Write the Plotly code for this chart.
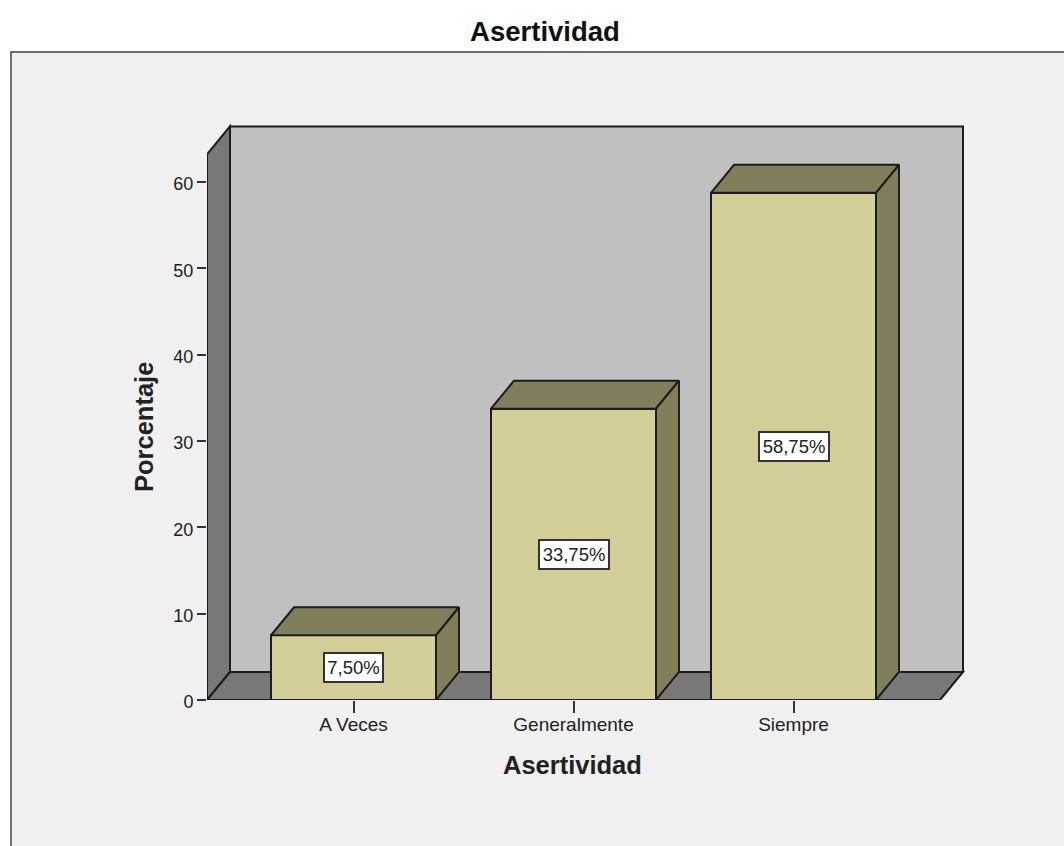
import plotly.graph_objects as go

categories = ["A Veces", "Generalmente", "Siempre"]
values = [7.50, 33.75, 58.75]
labels = ["7,50%", "33,75%", "58,75%"]
y_ticks = [0, 10, 20, 30, 40, 50, 60]
title_text = "Asertividad"
y_title = "Porcentaje"

W, H = 1064, 846
L, R, T, B = 207, 975, 115, 700      # plot area in pixels (slightly larger than the walls)
WALL_R = 963                         # pixel of the back wall's right edge
PX_Y = 8.633                         # pixels per percentage point
PX_X = 220.0                         # pixels per category
X0 = 353.5                           # pixel of first category
DX = 23 / PX_X                       # depth offset, x data units
DY = 28 / PX_Y                       # depth offset, y data units
BAR_W = 165 / PX_X
WALL_TOP = 63.2
x_lo = (L - X0) / PX_X
x_hi = (R - X0) / PX_X
x_wall_hi = (WALL_R - X0) / PX_X
x_front_hi = x_wall_hi - DX
y_hi = (B - T) / PX_Y

INK = "#1c1c1c"
LW = 2
WALL, SIDE, PANEL = "#c0c0c0", "#787878", "#f0f0f0"
BAR, BAR_DARK = "#d3ce97", "#807e5b"
TXT = "#222222"
FONT = "Liberation Sans, Arial, sans-serif"

px = lambda v: (v - L) / (R - L)
py = lambda v: 1 - (v - T) / (B - T)

def poly(xs, ys):
    return "M" + " L".join(f"{a},{b}" for a, b in zip(xs, ys)) + " Z"

positions = list(range(len(categories)))
fig = go.Figure()

shapes = [
    dict(type="rect", xref="paper", yref="paper", x0=px(11), x1=px(1100), y0=py(900), y1=py(52),
         fillcolor=PANEL, line=dict(color="#6e6e6e", width=2), layer="below"),
    dict(type="path", layer="below", fillcolor=WALL, line=dict(color=INK, width=LW),
         path=poly([x_lo + DX, x_wall_hi, x_wall_hi, x_lo + DX], [DY, DY, WALL_TOP + DY, WALL_TOP + DY])),
    dict(type="path", layer="below", fillcolor=SIDE, line=dict(color=INK, width=LW),
         path=poly([x_lo, x_lo + DX, x_lo + DX, x_lo], [0, DY, WALL_TOP + DY, WALL_TOP])),
    dict(type="path", layer="below", fillcolor=SIDE, line=dict(color=INK, width=LW),
         path=poly([x_lo, x_front_hi, x_wall_hi, x_lo + DX], [0, 0, DY, DY])),
]

fig.add_trace(go.Bar(x=positions, y=values, width=BAR_W, cliponaxis=False,
                     marker=dict(color=BAR, line=dict(color=INK, width=LW)),
                     showlegend=False, hoverinfo="skip"))

for p, v in zip(positions, values):
    a, b = p - BAR_W / 2, p + BAR_W / 2
    fig.add_trace(go.Scatter(x=[a, b, b + DX, a + DX, a], y=[v, v, v + DY, v + DY, v],
                             mode="lines", fill="toself", fillcolor=BAR_DARK, cliponaxis=False,
                             line=dict(color=INK, width=LW), showlegend=False, hoverinfo="skip"))
    fig.add_trace(go.Scatter(x=[b, b + DX, b + DX, b, b], y=[0, DY, v + DY, v, 0],
                             mode="lines", fill="toself", fillcolor=BAR_DARK, cliponaxis=False,
                             line=dict(color=INK, width=LW), showlegend=False, hoverinfo="skip"))

# front edges of the axes frame, drawn unclipped
fig.add_trace(go.Scatter(x=[x_lo, x_lo, x_front_hi], y=[WALL_TOP, 0, 0], mode="lines",
                         cliponaxis=False, line=dict(color=INK, width=LW),
                         showlegend=False, hoverinfo="skip"))

annotations = [
    dict(x=p, y=v / 2, xref="x", yref="y", text=t, showarrow=False,
         width=11 * len(t) - 2, height=23, align="center", valign="middle",
         bgcolor="white", bordercolor="#333333", borderwidth=2, borderpad=2,
         font=dict(family=FONT, size=18.5, color=TXT))
    for p, v, t in zip(positions, values, labels)
]
annotations += [
    dict(xref="paper", yref="paper", x=px(572.5), y=py(765), text=title_text, showarrow=False,
         xanchor="center", yanchor="middle", font=dict(family=FONT, size=25.5, color=TXT, weight="bold")),
    dict(xref="paper", yref="paper", x=px(144), y=py(427), text=y_title, showarrow=False, textangle=-90,
         xanchor="center", yanchor="middle", font=dict(family=FONT, size=25.5, color=TXT, weight="bold")),
]

fig.update_layout(
    width=W, height=H,
    margin=dict(l=L, r=W - R, t=T, b=H - B, pad=0),
    paper_bgcolor="white", plot_bgcolor="rgba(0,0,0,0)",
    title=dict(text=title_text, x=px(545), xref="paper", xanchor="center",
               y=1 - 31 / H, yref="container", yanchor="middle",
               font=dict(family=FONT, size=27.5, color="#111111", weight="bold")),
    shapes=shapes, annotations=annotations,
    bargap=0, showlegend=False,
    xaxis=dict(range=[x_lo, x_hi], tickmode="array", tickvals=positions, ticktext=categories,
               ticks="outside", ticklen=12, tickwidth=2, tickcolor="#333333",
               ticklabelstandoff=-5,
               showgrid=False, zeroline=False, showline=False,
               tickfont=dict(family=FONT, size=19, color=TXT)),
    yaxis=dict(range=[0, y_hi], tickmode="array", tickvals=y_ticks,
               ticks="outside", ticklen=9, tickwidth=2, tickcolor="#333333",
               ticklabelshift=2,
               showgrid=False, zeroline=False, showline=False,
               tickfont=dict(family=FONT, size=18, color=TXT)),
)

fig.write_html("out.html", config={"displayModeBar": False},
               post_script="document.body.style.margin='0';document.body.style.overflow='hidden';")
